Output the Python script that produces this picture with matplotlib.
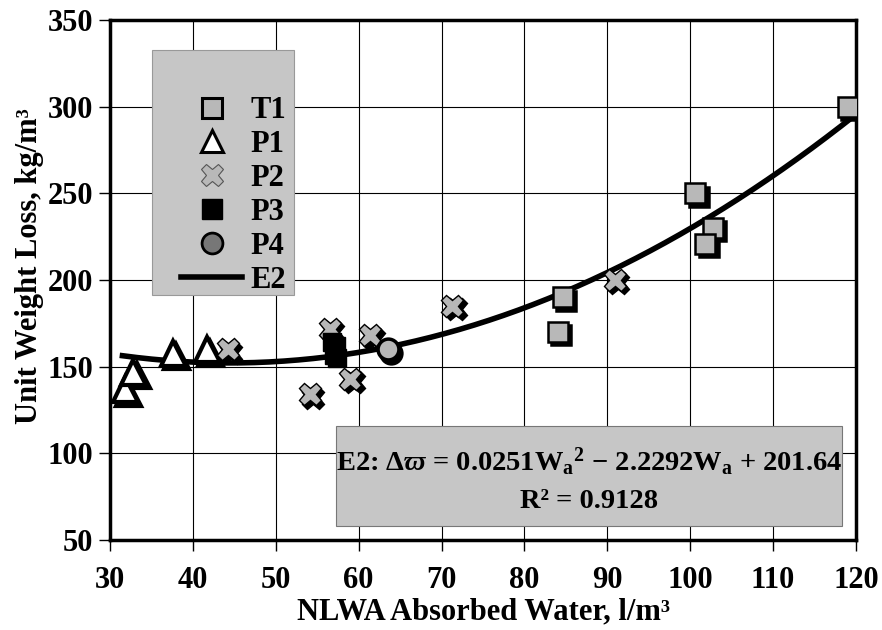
import numpy as np
import matplotlib
matplotlib.use("Agg")
import matplotlib.pyplot as plt
from matplotlib.transforms import offset_copy
from matplotlib.patches import Rectangle
from matplotlib.lines import Line2D

plt.rcParams['font.family'] = ['Liberation Serif', 'DejaVu Serif']
plt.rcParams['font.weight'] = 'bold'
plt.rcParams['mathtext.fontset'] = 'custom'
plt.rcParams['mathtext.rm'] = 'Liberation Serif:bold'
plt.rcParams['mathtext.it'] = 'Liberation Serif:italic:bold'
plt.rcParams['mathtext.bf'] = 'Liberation Serif:bold'

# ---- data ----
t1_x = [119.0, 100.6, 102.7, 101.8, 84.6, 84.0]
t1_y = [300, 250, 230, 221, 190, 170]
p1_x = [31.8, 32.8, 37.6, 41.7]
p1_y = [137, 147, 158, 160]
p2_x = [44.2, 56.5, 61.4, 59.0, 54.1, 71.3, 90.9]
p2_y = [160, 172, 168, 143, 134, 185, 200]
p3_x = [56.8, 57.0]
p3_y = [164, 157]
p4_x = [63.5]
p4_y = [160]
e2_coef = [0.0251, -2.2292, 201.64]
e2_range = [31.5, 119.5]

xticks = [30, 40, 50, 60, 70, 80, 90, 100, 110, 120]
yticks = [50, 100, 150, 200, 250, 300, 350]

fig = plt.figure(figsize=(8.82, 6.30), dpi=100)
L, R, T, B = 110, 856, 20, 540
ax = fig.add_axes([L/882, 1-B/630, (R-L)/882, (B-T)/630])
ax.set_xlim(30, 120)
ax.set_ylim(50, 350)
ax.set_xticks(xticks)
ax.set_yticks(yticks)
ax.grid(True, color='black', linewidth=0.8)
ax.set_axisbelow(True)
for s in ax.spines.values():
    s.set_linewidth(2.5)
ax.tick_params(direction='out', length=8, width=1, labelsize=22, pad=4)
ax.tick_params(axis='x', pad=11)
for lab in ax.get_xticklabels() + ax.get_yticklabels():
    lab.set_fontweight('bold')

fig.text((L + R) / 2 / 882, 1 - 612/630, 'NLWA Absorbed Water, l/m³',
         ha='center', va='center', fontsize=22, fontweight='bold')
fig.text(30/882, 1 - 266/630, 'Unit Weight Loss, kg/m³', rotation=90,
         ha='center', va='center', fontsize=22, fontweight='bold')

shadow = offset_copy(ax.transData, fig=fig, x=3.5, y=-3.5, units='dots')
grey = '#b8b8b8'

# fitted curve
xs = np.linspace(e2_range[0], e2_range[1], 200)
ax.plot(xs, np.polyval(e2_coef, xs), color='black', lw=4, zorder=3)

def series(x, y, marker, face, ms, mew, z):
    ax.plot(x, y, linestyle='none', marker=marker, ms=ms, mfc='black', mec='black',
            mew=mew, transform=shadow, zorder=z)
    ax.plot(x, y, linestyle='none', marker=marker, ms=ms, mfc=face, mec='black',
            mew=mew, zorder=z + 0.5)

series(t1_x, t1_y, 's', grey, 14, 1.8, 4)
series(p1_x, p1_y, '^', 'white', 18, 3.0, 4)
series(p2_x, p2_y, 'X', grey, 16, 1.0, 4)
series(p3_x, p3_y, 's', 'black', 13, 1.0, 4)
series(p4_x, p4_y, 'o', grey, 15, 2.5, 5)

# legend box
def axpix(px, py):
    return ((px - L) / (R - L), (B - py) / (B - T))

x0, y0 = axpix(152, 295)
x1, y1 = axpix(294, 50)
ax.add_patch(Rectangle((x0, y0), x1 - x0, y1 - y0, transform=ax.transAxes,
                       facecolor='#c6c6c6', edgecolor='#999999', lw=0.8, zorder=6))
handles = [
    Line2D([], [], ls='none', marker='s', ms=14, mfc=grey, mec='black', mew=2.2),
    Line2D([], [], ls='none', marker='^', ms=16, mfc='white', mec='black', mew=2.2),
    Line2D([], [], ls='none', marker='X', ms=16, mfc=grey, mec='#555555', mew=0.8),
    Line2D([], [], ls='none', marker='s', ms=14, mfc='black', mec='black'),
    Line2D([], [], ls='none', marker='o', ms=15, mfc='#777777', mec='black', mew=2),
    Line2D([], [], color='black', lw=4),
]
leg = ax.legend(handles, ['T1', 'P1', 'P2', 'P3', 'P4', 'E2'],
                loc='upper left', bbox_to_anchor=axpix(166, 81),
                frameon=False, prop={'size': 22, 'weight': 'bold'},
                handlelength=2.0, handletextpad=0.25, labelspacing=0.16,
                borderpad=0, markerfirst=True)
leg.set_zorder(7)

# equation box
ex0, ey0 = axpix(336, 526)
ex1, ey1 = axpix(842, 426)
ax.add_patch(Rectangle((ex0, ey0), ex1 - ex0, ey1 - ey0, transform=ax.transAxes,
                       facecolor='#c6c6c6', edgecolor='#777777', lw=0.8, zorder=6))
cx = (ex0 + ex1) / 2
ax.text(cx, axpix(0, 462)[1],
        r'E2: $\Delta\mathit{\varpi}$ = 0.0251W$_{\rm a}$$^{\rm 2}$ − 2.2292W$_{\rm a}$ + 201.64',
        transform=ax.transAxes, ha='center', va='center', fontsize=20.5,
        fontweight='bold', zorder=8)
ax.text(cx, axpix(0, 502)[1], 'R² = 0.9128', transform=ax.transAxes,
        ha='center', va='center', fontsize=20.5, fontweight='bold', zorder=8)

fig.savefig('out.png', dpi=100)
